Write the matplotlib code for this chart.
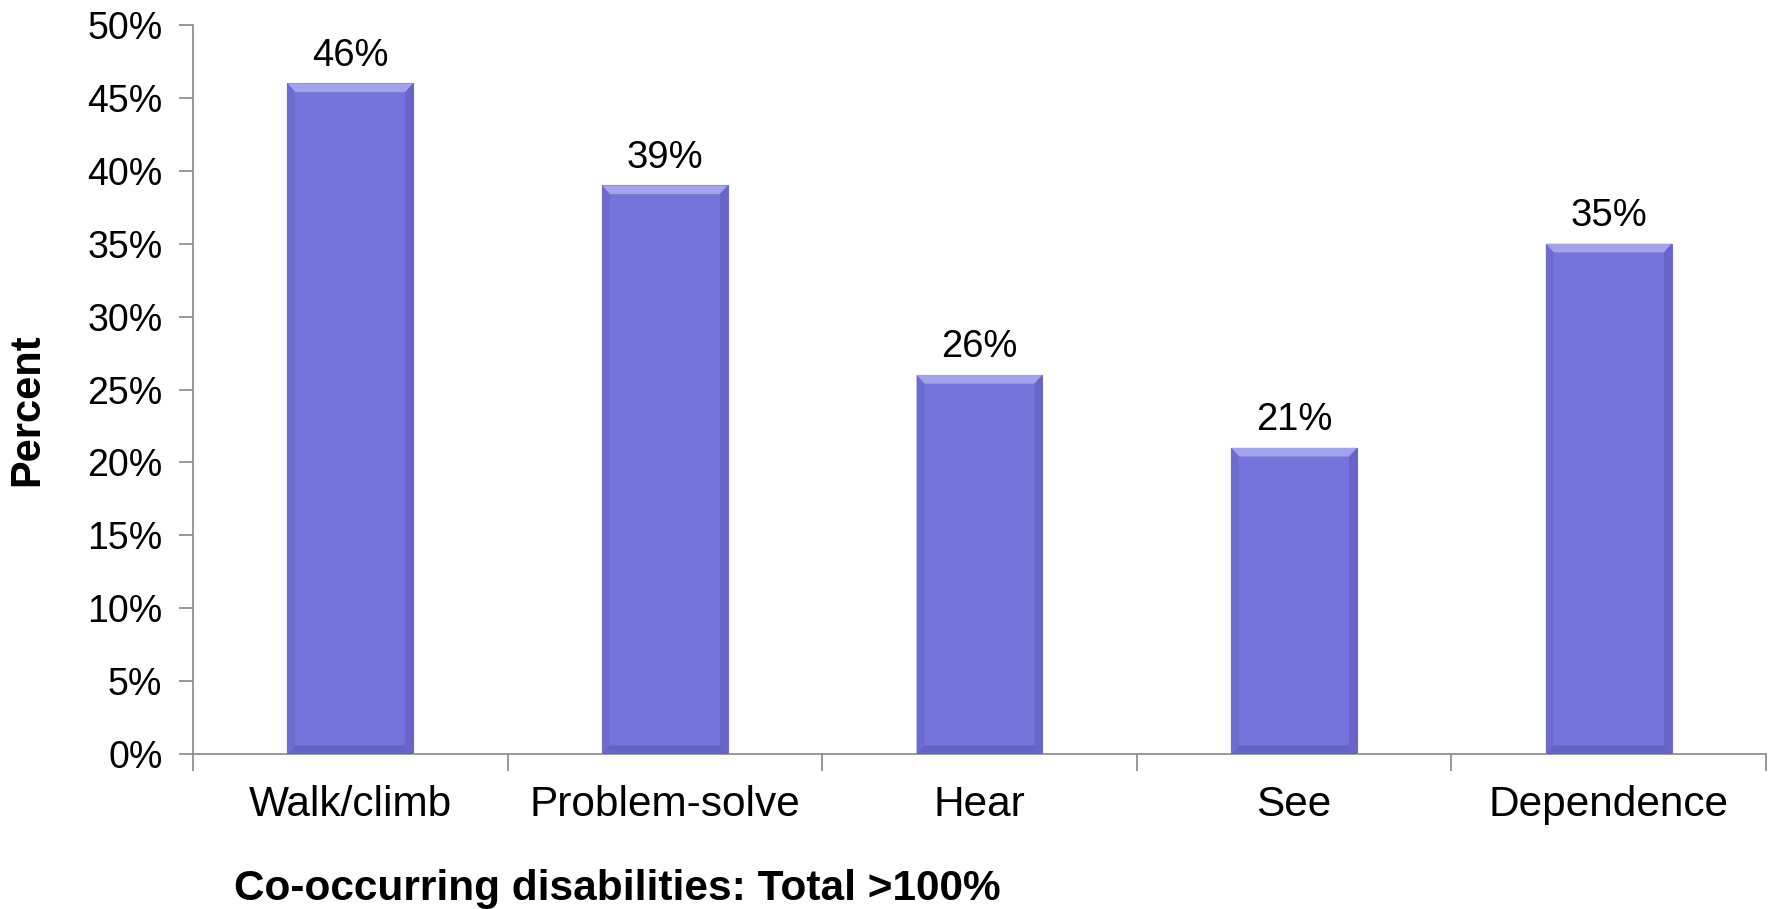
import numpy as np
import matplotlib.pyplot as plt
from matplotlib.patches import Polygon

plt.rcParams['font.family'] = ['Liberation Sans', 'DejaVu Sans']

categories = ["Walk/climb", "Problem-solve", "Hear", "See", "Dependence"]
values = [46, 39, 26, 21, 35]
yticks = [0, 5, 10, 15, 20, 25, 30, 35, 40, 45, 50]

fig = plt.figure(figsize=(17.75, 9.09), dpi=100)
ax = fig.add_axes([0.1087, 0.1705, 0.8863, 0.802])

x = np.arange(len(categories))
bar_w = 0.4
bars = ax.bar(x, values, width=bar_w, color="#7474DA", edgecolor="#6a6ac8",
              linewidth=0.8, zorder=2)

# simple bevel look: light top strip, darker bottom and side strips
for b in bars:
    x0, y0 = b.get_x(), b.get_y()
    w, h = b.get_width(), b.get_height()
    dx, dy = 0.025, 0.6
    top = Polygon([[x0, y0 + h], [x0 + w, y0 + h], [x0 + w - dx, y0 + h - dy],
                   [x0 + dx, y0 + h - dy]], closed=True, facecolor="#a3a3ec",
                  edgecolor="none", zorder=3)
    bot = Polygon([[x0, y0], [x0 + w, y0], [x0 + w - dx, y0 + dy],
                   [x0 + dx, y0 + dy]], closed=True, facecolor="#6464c4",
                  edgecolor="none", zorder=3)
    left = Polygon([[x0, y0], [x0 + dx, y0 + dy], [x0 + dx, y0 + h - dy],
                    [x0, y0 + h]], closed=True, facecolor="#6b6bd0",
                   edgecolor="none", zorder=3)
    right = Polygon([[x0 + w, y0], [x0 + w - dx, y0 + dy], [x0 + w - dx, y0 + h - dy],
                     [x0 + w, y0 + h]], closed=True, facecolor="#6666c8",
                    edgecolor="none", zorder=3)
    for p in (top, bot, left, right):
        ax.add_patch(p)

for xi, v in zip(x, values):
    ax.annotate(f"{v}%", (xi, v), xytext=(0, 7), textcoords="offset points",
                ha="center", va="bottom", fontsize=27.5)

ax.set_xlim(-0.5, len(categories) - 0.5)
ax.set_ylim(0, 50)
ax.set_yticks(yticks)
ax.set_yticklabels([f"{t}%" for t in yticks], fontsize=27)
ax.set_xticks(x)
ax.set_xticklabels(categories, fontsize=30.5)
ax.set_xticks(np.arange(-0.5, len(categories)), minor=True)
ax.tick_params(axis="x", which="major", length=0, pad=22)
ax.tick_params(axis="x", which="minor", length=12, color="#888888", width=1.2)
ax.tick_params(axis="y", length=10, color="#888888", width=1.2, pad=12)

for s in ("top", "right"):
    ax.spines[s].set_visible(False)
for s in ("left", "bottom"):
    ax.spines[s].set_color("#888888")
    ax.spines[s].set_linewidth(1.2)

ax.set_ylabel("Percent", fontsize=30, fontweight="bold")
ax.yaxis.set_label_coords(-0.0924, 0.472)
fig.text(0.132, 0.022, "Co-occurring disabilities: Total >100%", fontsize=30.5,
         fontweight="bold", ha="left", va="center")

fig.savefig("out.png", dpi=100)
